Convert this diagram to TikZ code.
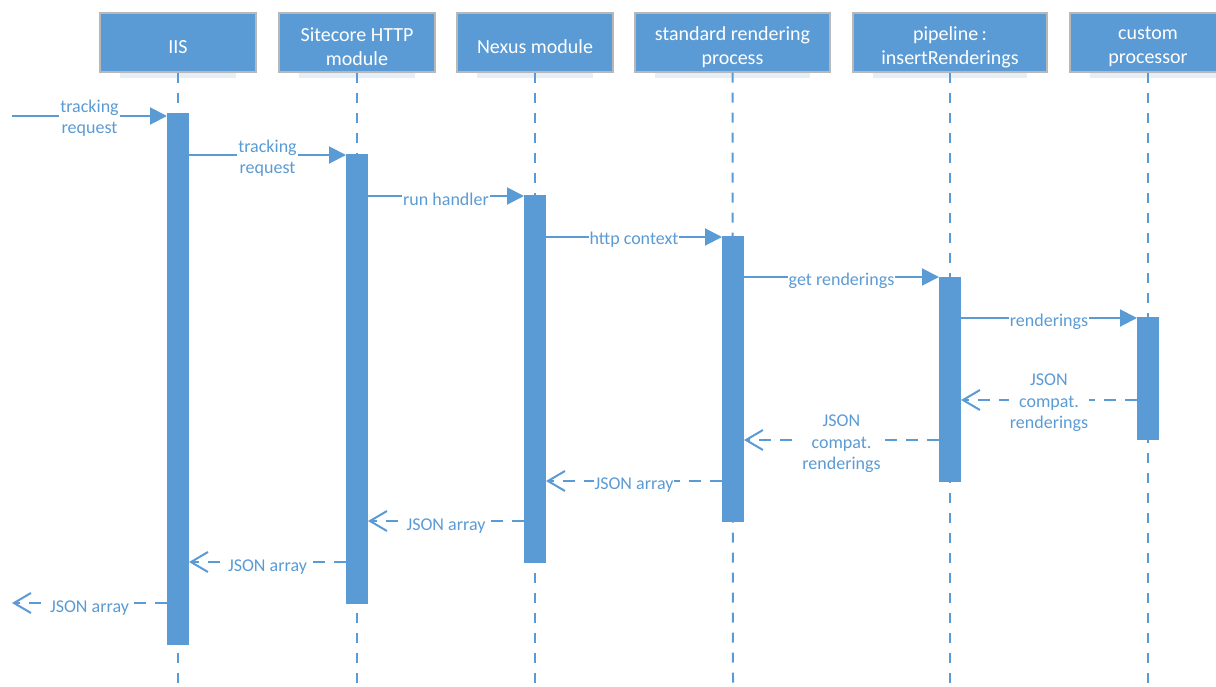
\documentclass[tikz,border=0pt]{standalone}
\usepackage{fontspec}
\setmainfont{Carlito}
\usetikzlibrary{arrows.meta}
\definecolor{blu}{HTML}{5B9BD5}
\definecolor{bord}{HTML}{B8B8B8}
\definecolor{shad}{HTML}{E6EFF8}
\begin{document}
\begin{tikzpicture}[x=1pt,y=-1pt,
  head/.style={fill=blu,draw=bord,line width=1.3pt,minimum height=59pt,inner sep=0pt},
  htxt/.style={text=white,align=center,font=\fontsize{20}{24}\selectfont,inner sep=0pt},
  bar/.style={fill=blu,draw=none},
  life/.style={draw=blu,line width=2pt,dash pattern=on 10pt off 10pt},
  call/.style={draw=blu,line width=2pt,-{Triangle[length=17pt,width=17pt]}},
  ret/.style={draw=blu,line width=2pt,dash pattern=on 12pt off 9pt,
    -{Straight Barb[length=17pt,width=20pt,line width=2pt]}},
  lbl/.style={fill=white,text=blu,align=center,inner sep=1pt,
    font=\fontsize{18}{21.5}\selectfont}]
\useasboundingbox (0,0) rectangle (1216,686);
% shadows
\foreach \a/\b in {120/236,299/415,477/593,655/810,873/1027,1090/1216}
  \fill[shad] (\a,73) rectangle (\b,78);
% headers
\node[head,minimum width=156pt] (h1) at (178,42.5) {};
\node[head,minimum width=156pt] (h2) at (357,42.5) {};
\node[head,minimum width=156pt] (h3) at (535,42.5) {};
\node[head,minimum width=195pt] (h4) at (732.5,42.5) {};
\node[head,minimum width=194pt] (h5) at (950,42.5) {};
\node[head,minimum width=156pt] (h6) at (1148,42.5) {};
\node[htxt] (t1) at (178,47) {IIS};
\node[htxt] (t2) at (357,47) {Sitecore HTTP\\module};
\node[htxt] (t3) at (535,47) {Nexus module};
\node[htxt] (t4) at (732.5,47) {standard rendering\\process};
\node[htxt] (t5) at (950,47) {pipeline\,:\\insertRenderings};
\node[htxt] (t6) at (1148,47) {custom\\processor};
% lifelines
\foreach \i/\x in {1/178,2/357,3/535,4/733,5/950,6/1148}{
  \coordinate (e\i) at (\x,686);
  \draw[life] (h\i.south) -- (e\i);
}
% activation bars
\fill[bar] (167,113) rectangle (189,645);
\fill[bar] (346,154) rectangle (368,604);
\fill[bar] (524,195) rectangle (546,563);
\fill[bar] (722,236) rectangle (744,522);
\fill[bar] (939,277) rectangle (961,482);
\fill[bar] (1137,317) rectangle (1159,440);
% calls
\coordinate (s0) at (12,116);
\coordinate (a1) at (167,116);
\draw[call] (s0) -- node[lbl,yshift=-2pt]{tracking\\request} (a1);
\coordinate (b1) at (189,155); \coordinate (b2) at (346,155);
\draw[call] (b1) -- node[lbl,yshift=-3pt]{tracking\\request} (b2);
\coordinate (c1) at (368,196); \coordinate (c2) at (524,196);
\draw[call] (c1) -- node[lbl,yshift=-3pt]{run handler} (c2);
\coordinate (d1) at (546,237); \coordinate (d2) at (722,237);
\draw[call] (d1) -- node[lbl,yshift=-3pt]{http context} (d2);
\coordinate (f1) at (744,277); \coordinate (f2) at (939,277);
\draw[call] (f1) -- node[lbl,yshift=-4pt]{get renderings} (f2);
\coordinate (g1) at (961,318); \coordinate (g2) at (1137,318);
\draw[call] (g1) -- node[lbl,yshift=-4pt]{renderings} (g2);
% returns
\coordinate (r1a) at (1137,400); \coordinate (r1b) at (961,400);
\draw[ret] (r1a) -- node[lbl,yshift=-3pt]{JSON\\compat.\\renderings} (r1b);
\coordinate (r2a) at (939,440); \coordinate (r2b) at (744,440);
\draw[ret] (r2a) -- node[lbl,yshift=-4pt]{JSON\\compat.\\renderings} (r2b);
\coordinate (r3a) at (722,481); \coordinate (r3b) at (546,481);
\draw[ret] (r3a) -- node[lbl,yshift=-4pt]{JSON array} (r3b);
\coordinate (r4a) at (524,521); \coordinate (r4b) at (368,521);
\draw[ret] (r4a) -- node[lbl,yshift=-5pt]{JSON array} (r4b);
\coordinate (r5a) at (346,562); \coordinate (r5b) at (189,562);
\draw[ret] (r5a) -- node[lbl,yshift=-5pt]{JSON array} (r5b);
\coordinate (r6a) at (167,603); \coordinate (r6b) at (12,603);
\draw[ret] (r6a) -- node[lbl,yshift=-5pt]{JSON array} (r6b);
\end{tikzpicture}
\end{document}
